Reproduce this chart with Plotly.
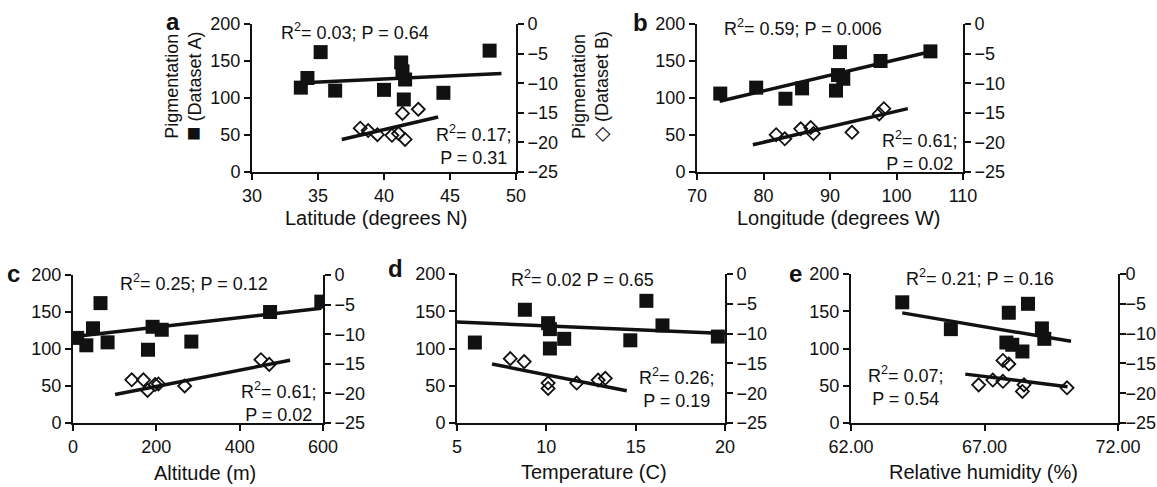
import plotly.graph_objects as go

W, H = 1157, 487
FONT = "Liberation Sans, Arial, sans-serif"

# ---------------- data ----------------
# Panel a: latitude
lat_sq_x = [33.7, 34.2, 35.2, 36.3, 40.0, 41.3, 41.4, 41.6, 41.5, 44.5, 48.0]
lat_sq_y = [114, 127, 162, 110, 111, 148, 136, 125, 98, 107, 164]
lat_di_x = [38.2, 38.8, 39.5, 40.6, 41.1, 41.4, 41.6, 42.6]
lat_di_y = [-17.6, -18.0, -18.7, -18.8, -18.5, -15.1, -19.5, -14.4]
lat_fit_sq_x, lat_fit_sq_y = [33.9, 48.9], [120.5, 133]
lat_fit_di_x, lat_fit_di_y = [36.8, 44.1], [-19.5, -15.7]

# Panel b: longitude
lon_sq_x = [73.5, 78.9, 83.3, 85.8, 90.9, 91.2, 91.5, 92.0, 97.6, 105.1]
lon_sq_y = [106, 114, 99, 113, 110, 131, 162, 126, 150, 163]
lon_di_x = [81.9, 83.2, 85.6, 87.1, 87.5, 93.3, 97.4, 98.1]
lon_di_y = [-18.7, -19.4, -17.7, -17.5, -18.5, -18.3, -15.2, -14.3]
lon_fit_sq_x, lon_fit_sq_y = [73.4, 106.0], [95.7, 164.6]
lon_fit_di_x, lon_fit_di_y = [78.4, 101.7], [-20.4, -14.3]

# Panel c: altitude
alt_sq_x = [10, 32, 48, 66, 83, 180, 191, 213, 284, 473, 596]
alt_sq_y = [115, 105, 128, 162, 109, 99, 130, 126, 110, 150, 164]
alt_di_x = [141, 169, 179, 197, 205, 268, 451, 471]
alt_di_y = [-17.7, -17.7, -19.5, -18.5, -18.4, -18.75, -14.3, -15.1]
alt_fit_sq_x, alt_fit_sq_y = [4, 596], [117, 155]
alt_fit_di_x, alt_fit_di_y = [101, 521], [-20.2, -14.4]

# Panel d: temperature
tmp_sq_x = [6.0, 8.8, 10.1, 10.2, 10.2, 11.0, 14.7, 15.6, 16.5, 19.6]
tmp_sq_y = [108, 152, 134, 126, 100, 113, 111, 164, 131, 116]
tmp_di_x = [7.98, 8.76, 10.1, 10.1, 11.7, 12.9, 13.3]
tmp_di_y = [-14.2, -14.7, -18.3, -19.2, -18.3, -17.8, -17.5]
tmp_fit_sq_x, tmp_fit_sq_y = [5, 20], [135.6, 120]
tmp_fit_di_x, tmp_fit_di_y = [6.96, 14.5], [-15.1, -19.6]

# Panel e: relative humidity
hum_sq_x = [63.92, 65.74, 67.91, 67.82, 68.04, 68.42, 68.63, 69.15, 69.24]
hum_sq_y = [162, 126, 148, 108, 105, 96, 160, 127, 113]
hum_di_x = [66.78, 67.31, 67.69, 67.69, 67.91, 68.42, 68.48, 70.09]
hum_di_y = [-18.6, -17.8, -18.0, -14.5, -15.1, -19.7, -18.6, -19.1]
hum_fit_sq_x, hum_fit_sq_y = [63.92, 70.24], [147.8, 109.6]
hum_fit_di_x, hum_fit_di_y = [66.28, 70.11], [-16.8, -18.9]

panels = [
    dict(letter="a", title="Latitude (degrees N)", xr=[30, 50], dt=5, fmt="",
         sqx=lat_sq_x, sqy=lat_sq_y, dix=lat_di_x, diy=lat_di_y,
         fsx=lat_fit_sq_x, fsy=lat_fit_sq_y, fdx=lat_fit_di_x, fdy=lat_fit_di_y,
         stat1="R<sup>2</sup>= 0.03; P = 0.64", stat2="R<sup>2</sup>= 0.17;<br>P = 0.31"),
    dict(letter="b", title="Longitude (degrees W)", xr=[70, 110], dt=10, fmt="",
         sqx=lon_sq_x, sqy=lon_sq_y, dix=lon_di_x, diy=lon_di_y,
         fsx=lon_fit_sq_x, fsy=lon_fit_sq_y, fdx=lon_fit_di_x, fdy=lon_fit_di_y,
         stat1="R<sup>2</sup>= 0.59; P = 0.006", stat2="R<sup>2</sup>= 0.61;<br>P = 0.02"),
    dict(letter="c", title="Altitude (m)", xr=[0, 600], dt=200, fmt="",
         sqx=alt_sq_x, sqy=alt_sq_y, dix=alt_di_x, diy=alt_di_y,
         fsx=alt_fit_sq_x, fsy=alt_fit_sq_y, fdx=alt_fit_di_x, fdy=alt_fit_di_y,
         stat1="R<sup>2</sup>= 0.25; P = 0.12", stat2="R<sup>2</sup>= 0.61;<br>P = 0.02"),
    dict(letter="d", title="Temperature (C)", xr=[5, 20], dt=5, fmt="",
         sqx=tmp_sq_x, sqy=tmp_sq_y, dix=tmp_di_x, diy=tmp_di_y,
         fsx=tmp_fit_sq_x, fsy=tmp_fit_sq_y, fdx=tmp_fit_di_x, fdy=tmp_fit_di_y,
         stat1="R<sup>2</sup>= 0.02 P = 0.65", stat2="R<sup>2</sup>= 0.26;<br>P = 0.19"),
    dict(letter="e", title="Relative humidity (%)", xr=[62, 72], dt=5, fmt=".2f",
         sqx=hum_sq_x, sqy=hum_sq_y, dix=hum_di_x, diy=hum_di_y,
         fsx=hum_fit_sq_x, fsy=hum_fit_sq_y, fdx=hum_fit_di_x, fdy=hum_fit_di_y,
         stat1="R<sup>2</sup>= 0.21; P = 0.16", stat2="R<sup>2</sup>= 0.07;<br>P = 0.54"),
]

# ---------------- layout geometry (pixels) ----------------
boxes = [  # x0, x1, ytop, ybottom
    (252, 516, 24, 172),
    (697, 963, 24, 172),
    (73, 323, 275, 423),
    (457, 725, 274, 423),
    (851, 1118, 274, 423),
]
right_standoff = [0, 0, 0, 0, -4]
letter_pos = [(173, 21), (640, 23), (13, 273), (395, 268), (795, 273)]
title_pos = [(376, 218), (838, 218), (205, 473), (594, 472), (983, 472)]
stat1_pos = [(355, 32), (803, 28), (194, 282), (582, 278), (980, 277)]
stat2_pos = [(474, 145), (920, 151), (279, 402), (677, 388), (906, 386)]


def px(x):
    return x / W


def py(y):
    return 1 - y / H


fig = go.Figure()
layout = dict(
    width=W, height=H, autosize=False,
    margin=dict(l=0, r=0, t=0, b=0, pad=0, autoexpand=False),
    paper_bgcolor="white", plot_bgcolor="white", showlegend=False,
    font=dict(family=FONT, size=18, color="#111"),
)
annotations = []

for i, (p, b) in enumerate(zip(panels, boxes)):
    n = i + 1
    xa = "x" if n == 1 else f"x{n}"
    ya = "y" if n == 1 else f"y{n}"
    yr = f"y{n + 5}"
    x0, x1, yt, yb = b
    axis_common = dict(showgrid=False, zeroline=False, showline=True, linecolor="#111",
                       linewidth=2, ticks="outside", ticklen=6, tickwidth=2, tickcolor="#111",
                       automargin=False,
                       tickfont=dict(family=FONT, size=18, color="#111"), fixedrange=True)
    layout[f"xaxis{'' if n == 1 else n}"] = dict(
        domain=[px(x0), px(x1)], anchor=ya, range=p["xr"], dtick=p["dt"], tick0=p["xr"][0],
        tickformat=p["fmt"], **axis_common)
    layout[f"yaxis{'' if n == 1 else n}"] = dict(
        domain=[py(yb), py(yt)], anchor=xa, range=[0, 200], dtick=50, side="left", **axis_common)
    layout[f"yaxis{n + 5}"] = dict(
        overlaying=ya, anchor=xa, side="right", range=[-25, 0], dtick=5,
        ticklabelstandoff=right_standoff[i], **axis_common)

    fig.add_trace(go.Scatter(x=p["fsx"], y=p["fsy"], mode="lines", xaxis=xa, yaxis=ya,
                             line=dict(color="#111", width=3.5)))
    fig.add_trace(go.Scatter(x=p["sqx"], y=p["sqy"], mode="markers", xaxis=xa, yaxis=ya,
                             marker=dict(symbol="square", size=14, color="#111")))
    fig.add_trace(go.Scatter(x=p["fdx"], y=p["fdy"], mode="lines", xaxis=xa, yaxis=yr,
                             line=dict(color="#111", width=3.5)))
    fig.add_trace(go.Scatter(x=p["dix"], y=p["diy"], mode="markers", xaxis=xa, yaxis=yr,
                             marker=dict(symbol="diamond-open", size=10, color="#111",
                                         line=dict(width=1.8, color="#111"))))

    lx, ly = letter_pos[i]
    annotations.append(dict(text=f"<b>{p['letter']}</b>", x=px(lx), y=py(ly), xref="paper",
                            yref="paper", showarrow=False, xanchor="center", yanchor="middle",
                            font=dict(family=FONT, size=24, color="#111")))
    tx, ty = title_pos[i]
    annotations.append(dict(text=p["title"], x=px(tx), y=py(ty), xref="paper", yref="paper",
                            showarrow=False, xanchor="center", yanchor="middle",
                            font=dict(family=FONT, size=20, color="#111")))
    sx, sy = stat1_pos[i]
    annotations.append(dict(text=p["stat1"], x=px(sx), y=py(sy), xref="paper", yref="paper",
                            showarrow=False, xanchor="center", yanchor="middle",
                            font=dict(family=FONT, size=18, color="#111")))
    sx, sy = stat2_pos[i]
    annotations.append(dict(text=p["stat2"], x=px(sx), y=py(sy), xref="paper", yref="paper",
                            showarrow=False, xanchor="center", yanchor="middle", align="center",
                            font=dict(family=FONT, size=18, color="#111")))

# y-axis titles (dataset legends)
annotations.append(dict(text="Pigmentation<br><span style='font-size:24px'>■</span> (Dataset A)",
                        x=px(184), y=py(86),
                        xref="paper", yref="paper", showarrow=False, textangle=-90,
                        xanchor="center", yanchor="middle",
                        font=dict(family=FONT, size=18, color="#111")))
annotations.append(dict(text="Pigmentation<br><span style='font-size:20px'>◇</span> (Dataset B)",
                        x=px(590), y=py(87),
                        xref="paper", yref="paper", showarrow=False, textangle=-90,
                        xanchor="center", yanchor="middle",
                        font=dict(family=FONT, size=18, color="#111")))

layout["annotations"] = annotations
fig.update_layout(**layout)
fig.write_html("out.html", config={"displayModeBar": False},
               post_script="document.body.style.margin='0';document.body.style.overflow='hidden';")
